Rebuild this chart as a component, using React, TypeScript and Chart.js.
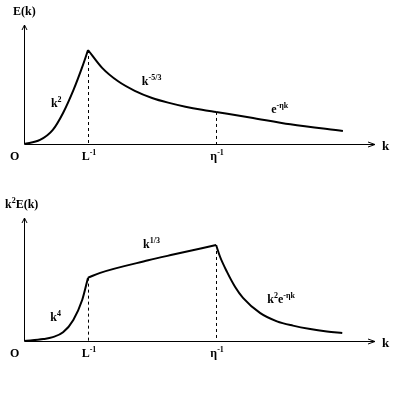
import React, { useEffect, useRef } from "react";
import { Chart, registerables } from "chart.js";
Chart.register(...registerables);

// x positions of the characteristic wavenumbers (L^-1, eta^-1) and axis range
const markK = [1, 3];
const kMax = 5.45;

// Top panel: E(k)
const topRiseK = [0, 0.25, 0.45, 0.61, 0.77, 0.91, 1];
const topRiseE = [0, 0.043, 0.15, 0.33, 0.57, 0.82, 1];
const topInerK = [1, 1.22, 1.47, 1.73, 2.0, 2.25, 2.52, 2.78, 3];
const topInerE = [1, 0.81, 0.667, 0.566, 0.49, 0.44, 0.397, 0.364, 0.341];
const topDissK = [3, 3.53, 4.16, 4.98];
const topDissE = [0.341, 0.283, 0.21, 0.138];
const topYMax = 1.266;

// Bottom panel: k^2 E(k)
const botRiseK = [0, 0.3, 0.45, 0.61, 0.77, 0.91, 1];
const botRiseE = [0, 0.02, 0.04, 0.09, 0.22, 0.43, 0.66];
const botInerK = [1, 1.19, 1.94, 2.33, 3];
const botInerE = [0.66, 0.71, 0.84, 0.9, 1];
const botDissK = [3, 3.06, 3.17, 3.3, 3.42, 3.69, 3.95, 4.2, 4.47, 4.73, 4.97];
const botDissE = [1, 0.88, 0.72, 0.56, 0.45, 0.29, 0.205, 0.16, 0.125, 0.1, 0.083];
const botYMax = 1.281;

type Part = [string, boolean];
const tickLabels: Part[][] = [
  [["L", false], ["-1", true]],
  [["\u03b7", false], ["-1", true]],
];
const topTitle: Part[] = [["E(k)", false]];
const botTitle: Part[] = [["k", false], ["2", true], ["E(k)", false]];
const topNotes: { k: number; v: number; parts: Part[] }[] = [
  { k: 0.42, v: 0.39, parts: [["k", false], ["2", true]] },
  { k: 1.84, v: 0.63, parts: [["k", false], ["-5/3", true]] },
  { k: 3.86, v: 0.33, parts: [["e", false], ["-\u03b7k", true]] },
];
const botNotes: { k: number; v: number; parts: Part[] }[] = [
  { k: 0.41, v: 0.21, parts: [["k", false], ["4", true]] },
  { k: 1.86, v: 0.97, parts: [["k", false], ["1/3", true]] },
  { k: 3.8, v: 0.4, parts: [["k", false], ["2", true], ["e", false], ["-\u03b7k", true]] },
];

const FONT = "'Liberation Serif', 'Times New Roman', serif";
const BASE = `bold 12px ${FONT}`;
const SUP = `bold 8px ${FONT}`;

function partsWidth(ctx: CanvasRenderingContext2D, parts: Part[]) {
  let w = 0;
  for (const [t, s] of parts) {
    ctx.font = s ? SUP : BASE;
    w += ctx.measureText(t).width;
  }
  return w;
}
function drawParts(ctx: CanvasRenderingContext2D, parts: Part[], x: number, y: number) {
  ctx.textBaseline = "alphabetic";
  ctx.textAlign = "left";
  let cx = x;
  for (const [t, s] of parts) {
    ctx.font = s ? SUP : BASE;
    ctx.fillText(t, cx, s ? y - 5 : y);
    cx += ctx.measureText(t).width;
  }
}

const zip = (ks: number[], vs: number[]) => ks.map((k, i) => ({ x: k, y: vs[i] }));

function makePanel(
  canvas: HTMLCanvasElement,
  segs: { x: number; y: number }[][],
  yMax: number,
  padTop: number,
  padBottom: number,
  title: Part[],
  titleDx: number,
  notes: { k: number; v: number; parts: Part[] }[]
) {
  const decor = {
    id: "decor",
    afterDraw(chart: any) {
      const ctx: CanvasRenderingContext2D = chart.ctx;
      const { left, right, top, bottom } = chart.chartArea;
      const xs = chart.scales.x;
      const ys = chart.scales.y;
      ctx.save();
      ctx.strokeStyle = "#000";
      ctx.fillStyle = "#000";
      ctx.lineWidth = 1;
      const ax = Math.round(left) + 0.5;
      const ay = Math.round(bottom) + 0.5;
      // axes
      ctx.beginPath();
      ctx.moveTo(ax, ay);
      ctx.lineTo(ax, top);
      ctx.moveTo(ax, ay);
      ctx.lineTo(right + 2, ay);
      // arrowheads
      ctx.moveTo(ax - 2.5, top + 5);
      ctx.lineTo(ax, top);
      ctx.lineTo(ax + 2.5, top + 5);
      ctx.moveTo(right - 5, ay - 2.5);
      ctx.lineTo(right + 2, ay);
      ctx.lineTo(right - 5, ay + 2.5);
      ctx.stroke();
      // dashed markers
      ctx.setLineDash([3, 3]);
      markK.forEach((m) => {
        let v = 0;
        segs.forEach((s) => s.forEach((p) => { if (p.x === m) v = p.y; }));
        const px = Math.round(xs.getPixelForValue(m)) + 0.5;
        ctx.beginPath();
        ctx.moveTo(px, ys.getPixelForValue(v));
        ctx.lineTo(px, ay);
        ctx.stroke();
      });
      ctx.setLineDash([]);
      // tick labels
      markK.forEach((m, i) => {
        const w = partsWidth(ctx, tickLabels[i]);
        drawParts(ctx, tickLabels[i], xs.getPixelForValue(m) - w / 2 + 1, ay + 15);
      });
      drawParts(ctx, [["O", false]], left - 14, ay + 15);
      ctx.font = `bold 13px ${FONT}`;
      ctx.fillText("k", right + 9, ay + 5);
      drawParts(ctx, title, left + titleDx, top - 10);
      notes.forEach((n) => drawParts(ctx, n.parts, xs.getPixelForValue(n.k), ys.getPixelForValue(n.v)));
      ctx.restore();
    },
  };
  return new Chart(canvas, {
    type: "line",
    data: {
      datasets: segs.map((s) => ({
        data: s,
        borderColor: "#000",
        borderWidth: 2,
        pointRadius: 0,
        cubicInterpolationMode: "monotone" as const,
        fill: false,
      })),
    },
    options: {
      responsive: false,
      animation: false,
      devicePixelRatio: 1,
      layout: { padding: { left: 24, right: 27, top: padTop, bottom: padBottom } },
      plugins: { legend: { display: false }, tooltip: { enabled: false } },
      scales: {
        x: { type: "linear", min: 0, max: kMax, display: false },
        y: { type: "linear", min: 0, max: yMax, display: false },
      },
    },
    plugins: [decor],
  });
}

export default function App() {
  const topRef = useRef<HTMLCanvasElement>(null);
  const botRef = useRef<HTMLCanvasElement>(null);
  useEffect(() => {
    const c1 = makePanel(
      topRef.current!,
      [zip(topRiseK, topRiseE), zip(topInerK, topInerE), zip(topDissK, topDissE)],
      topYMax, 25, 52, topTitle, -11, topNotes
    );
    const c2 = makePanel(
      botRef.current!,
      [zip(botRiseK, botRiseE), zip(botInerK, botInerE), zip(botDissK, botDissE)],
      botYMax, 22, 52, botTitle, -19, botNotes
    );
    return () => { c1.destroy(); c2.destroy(); };
  }, []);
  return (
    <div style={{ position: "absolute", left: 0, top: 0, width: 400, height: 393, background: "#fff" }}>
      <canvas ref={topRef} width={400} height={196} style={{ position: "absolute", left: 0, top: 0 }} />
      <canvas ref={botRef} width={400} height={197} style={{ position: "absolute", left: 0, top: 196 }} />
    </div>
  );
}
